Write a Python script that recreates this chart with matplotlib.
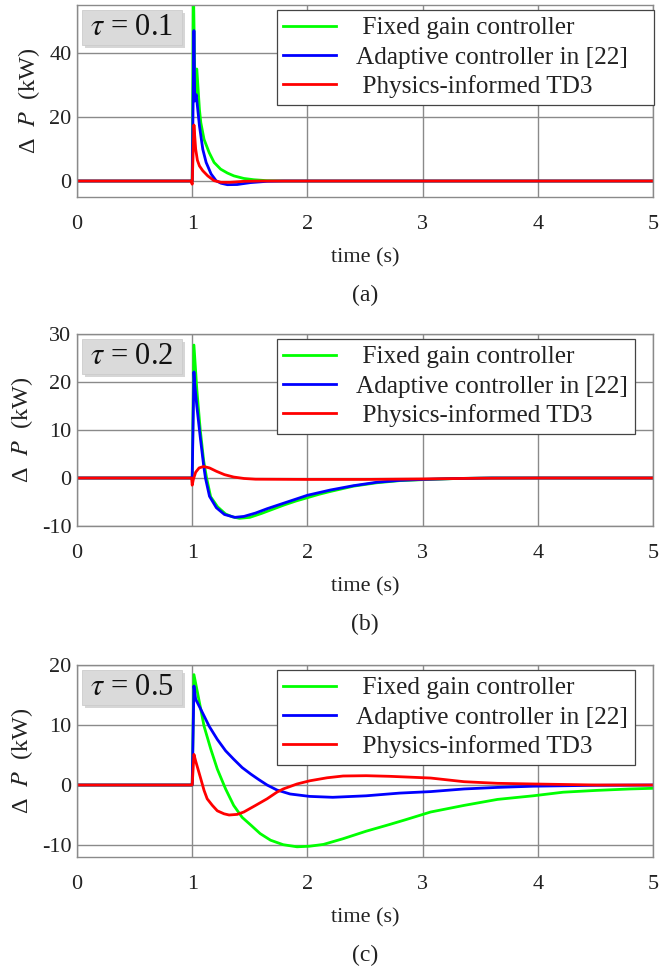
import matplotlib
matplotlib.use("Agg")
import matplotlib.pyplot as plt
from matplotlib.patches import Rectangle

plt.rcParams["font.family"] = ["Liberation Serif", "DejaVu Serif"]
plt.rcParams["mathtext.fontset"] = "stix"
plt.rcParams["axes.unicode_minus"] = False

# ---------------- data (time in s, power deviation in kW) ----------------
series_labels = [" Fixed gain controller", "Adaptive controller in [22]", " Physics-informed TD3"]
series_colors = ["#00ff00", "#0000ff", "#ff0000"]
x_ticks = [0, 1, 2, 3, 4, 5]

# (a) tau = 0.1
t_a_fixed = [0, 0.995, 1.0, 1.01, 1.025, 1.04, 1.063, 1.075, 1.103, 1.147, 1.19, 1.247, 1.305,
             1.362, 1.448, 1.534, 1.65, 1.8, 5.0]
p_a_fixed = [0, 0, 0, 62, 27, 35, 22.3, 18.2, 13.0, 8.9, 5.8, 3.7, 2.5, 1.6, 0.8, 0.4, 0.1, 0, 0]
t_a_adapt = [0, 0.995, 1.0, 1.015, 1.022, 1.035, 1.063, 1.092, 1.121, 1.164, 1.207, 1.25, 1.305,
             1.39, 1.506, 1.65, 1.8, 5.0]
p_a_adapt = [0, 0, 0, 47, 25, 27, 17.2, 9.9, 5.8, 2.2, 0.1, -0.7, -1.15, -1.1, -0.5, -0.1, 0, 0]
t_a_pitd3 = [0, 0.99, 1.0, 1.015, 1.03, 1.045, 1.063, 1.092, 1.135, 1.19, 1.25, 1.33, 1.45, 1.6, 5.0]
p_a_pitd3 = [0, 0, -1.0, 17.5, 10, 6.5, 4.7, 3.2, 1.6, 0.1, -0.4, -0.4, -0.1, 0, 0]

# (b) tau = 0.2
t_b_fixed = [0, 0.995, 1.0, 1.015, 1.04, 1.07, 1.10, 1.125, 1.16, 1.22, 1.29, 1.35, 1.41, 1.5, 1.6,
             1.7, 1.8, 1.9, 2.0, 2.1, 2.2, 2.4, 2.6, 2.8, 3.0, 3.3, 3.6, 5.0]
p_b_fixed = [0, 0, 0, 27.7, 18.5, 10, 3.5, 0, -3.9, -6.0, -7.5, -8.1, -8.4, -8.2, -7.4,
             -6.5, -5.6, -4.8, -4.1, -3.4, -2.8, -1.7, -1.0, -0.55, -0.35, -0.1, 0, 0]
t_b_adapt = [0, 0.995, 1.0, 1.015, 1.022, 1.04, 1.07, 1.10, 1.115, 1.15, 1.21, 1.28, 1.37, 1.45,
             1.55, 1.65, 1.8, 2.0, 2.2, 2.4, 2.6, 2.8, 3.0, 3.3, 3.6, 5.0]
p_b_adapt = [0, 0, 0, 22.1, 19.5, 15, 8.5, 2.5, 0, -3.8, -6.2, -7.6, -8.2, -8.0,
             -7.3, -6.4, -5.2, -3.6, -2.5, -1.6, -0.9, -0.5, -0.3, -0.1, 0, 0]
t_b_pitd3 = [0, 0.995, 1.0, 1.01, 1.03, 1.06, 1.10, 1.15, 1.21, 1.28, 1.36, 1.45, 1.55, 2.0, 2.5,
             3.0, 3.5, 4.0, 5.0]
p_b_pitd3 = [0, 0, -1.5, -0.3, 1.2, 2.1, 2.4, 2.1, 1.4, 0.7, 0.2, -0.1, -0.25, -0.3, -0.3,
             -0.2, -0.05, 0, 0]

# (c) tau = 0.5
t_c_fixed = [0, 0.995, 1.0, 1.015, 1.046, 1.103, 1.161, 1.218, 1.29, 1.36, 1.434, 1.51, 1.59, 1.68,
             1.79, 1.91, 2.02, 2.14, 2.31, 2.51, 2.71, 2.85, 3.07, 3.36, 3.65, 3.96, 4.22, 4.51,
             4.80, 5.0]
p_c_fixed = [0, 0, 0, 18.4, 15.4, 9.8, 6.0, 2.65, -0.66, -3.4, -5.4, -6.7, -8.1, -9.2,
             -9.95, -10.3, -10.2, -9.9, -8.95, -7.7, -6.6, -5.8, -4.5, -3.4, -2.4, -1.8, -1.2, -0.9,
             -0.66, -0.55]
t_c_adapt = [0, 0.995, 1.0, 1.015, 1.03, 1.075, 1.147, 1.218, 1.29, 1.36, 1.434, 1.51, 1.578, 1.65,
             1.735, 1.85, 2.02, 2.22, 2.51, 2.8, 3.07, 3.36, 3.65, 3.96, 4.5, 5.0]
p_c_adapt = [0, 0, 0, 16.5, 14.3, 12.6, 9.8, 7.6, 5.7, 4.3, 2.9, 1.8, 0.9, 0,
             -0.83, -1.5, -1.9, -2.05, -1.8, -1.35, -1.1, -0.66, -0.4, -0.2, -0.05, 0]
t_c_pitd3 = [0, 0.995, 1.0, 1.015, 1.03, 1.075, 1.103, 1.13, 1.175, 1.218, 1.276, 1.32, 1.39, 1.448,
             1.55, 1.65, 1.735, 1.79, 1.91, 2.02, 2.17, 2.31, 2.51, 2.71, 2.9, 3.07, 3.36, 3.65,
             3.96, 4.51, 5.0]
p_c_pitd3 = [0, 0, 0, 5.1, 4.0, 1.0, -0.9, -2.3, -3.4, -4.3, -4.8, -5.0, -4.9, -4.5,
             -3.4, -2.3, -1.2, -0.66, 0.17, 0.7, 1.2, 1.5, 1.55, 1.45, 1.3, 1.16, 0.55, 0.28,
             0.17, 0, 0]

panels = [
    dict(tag="(a)", tau="0.1", ylim=(-5, 55), yticks=[0, 20, 40], leg_extra="   ",
         t=[t_a_fixed, t_a_adapt, t_a_pitd3], p=[p_a_fixed, p_a_adapt, p_a_pitd3]),
    dict(tag="(b)", tau="0.2", ylim=(-10, 30), yticks=[-10, 0, 10, 20, 30], leg_extra="",
         t=[t_b_fixed, t_b_adapt, t_b_pitd3], p=[p_b_fixed, p_b_adapt, p_b_pitd3]),
    dict(tag="(c)", tau="0.5", ylim=(-12, 20), yticks=[-10, 0, 10, 20], leg_extra="",
         t=[t_c_fixed, t_c_adapt, t_c_pitd3], p=[p_c_fixed, p_c_adapt, p_c_pitd3]),
]

# ---------------- figure ----------------
W, H = 662, 975
fig = plt.figure(figsize=(W / 100, H / 100), dpi=100)

ax_left, ax_right = 77, 653
ax_tops = [5, 334, 665]
ax_h = 192
ax_w = ax_right - ax_left
grid_gray = "#8a8a8a"
ink = "#222222"

for pan, top in zip(panels, ax_tops):
    rect = [ax_left / W, 1 - (top + ax_h) / H, ax_w / W, ax_h / H]
    ax = fig.add_axes(rect)
    for i, (tt, pp, col, lab) in enumerate(zip(pan["t"], pan["p"], series_colors, series_labels)):
        if i == 1:
            lab = lab + pan["leg_extra"]
        ax.plot(tt, pp, color=col, lw=2.0, label=lab, solid_joinstyle="round")
    ax.set_xlim(0, 5)
    ax.set_ylim(*pan["ylim"])
    ax.set_xticks(x_ticks)
    ax.set_yticks(pan["yticks"])
    ax.grid(True, color=grid_gray, lw=1.0)
    ax.set_axisbelow(True)
    for sp in ax.spines.values():
        sp.set_color(grid_gray)
        sp.set_linewidth(1.0)
    ax.tick_params(axis="both", length=0, labelsize=16, colors=ink)
    ax.tick_params(axis="x", pad=13)
    ax.tick_params(axis="y", pad=4)
    ax.set_xlabel("time (s)", fontsize=16, labelpad=10, color=ink)
    ax.set_ylabel("Δ  $P$  (kW)", fontsize=17.5, labelpad=5, color=ink)

    leg = ax.legend(loc="upper left", bbox_to_anchor=(0.347, 0.972), fontsize=18.2,
                    frameon=True, fancybox=False, framealpha=1, edgecolor="#444444",
                    handlelength=2.1, handletextpad=0.8, labelspacing=0.26,
                    borderpad=0.25, borderaxespad=0)
    leg.get_frame().set_linewidth(0.9)
    for txt in leg.get_texts():
        txt.set_color(ink)

    # tau annotation: light grey box with a soft drop shadow
    bx0, bw = 5 / ax_w, 100 / ax_w
    by0, bh = 1 - 40 / ax_h, 35 / ax_h
    sx, sy = 3 / ax_w, 3 / ax_h
    ax.add_patch(Rectangle((bx0 + sx, by0 - sy), bw, bh, transform=ax.transAxes,
                           facecolor="#b5b5b5", edgecolor="none", alpha=0.55, zorder=5))
    ax.add_patch(Rectangle((bx0, by0), bw, bh, transform=ax.transAxes,
                           facecolor="#dadada", edgecolor="#cccccc", lw=0.6, zorder=6))
    ax.text(bx0 + bw / 2, by0 + bh / 2, r"$\tau$ = " + pan["tau"], transform=ax.transAxes,
            fontsize=22, ha="center", va="center", color="#111111", zorder=7)

    fig.text((ax_left + ax_right) / 2 / W, 1 - (top + ax_h + 98) / H, pan["tag"],
             fontsize=17, ha="center", va="center", color=ink)

fig.savefig("out.png", dpi=100)
